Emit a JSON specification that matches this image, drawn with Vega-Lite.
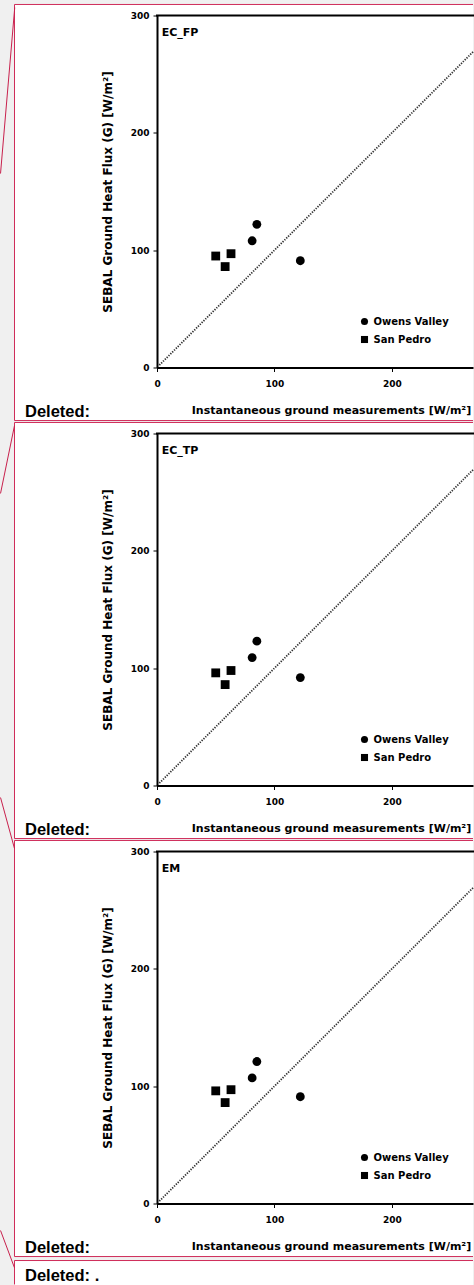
{
  "$schema": "https://vega.github.io/schema/vega-lite/v6.json",
  "background": "#f0f0f0",
  "padding": {"left": 0, "top": 3.5, "right": 0, "bottom": 0},
  "bounds": "flush",
  "spacing": 66,
  "datasets": {
    "pts": [
      {"panel": "EC_FP", "site": "San Pedro", "x": 50, "y": 95},
      {"panel": "EC_FP", "site": "San Pedro", "x": 58, "y": 86},
      {"panel": "EC_FP", "site": "San Pedro", "x": 63, "y": 97},
      {"panel": "EC_FP", "site": "Owens Valley", "x": 81, "y": 108},
      {"panel": "EC_FP", "site": "Owens Valley", "x": 85, "y": 122},
      {"panel": "EC_FP", "site": "Owens Valley", "x": 122, "y": 91},
      {"panel": "EC_TP", "site": "San Pedro", "x": 50, "y": 96},
      {"panel": "EC_TP", "site": "San Pedro", "x": 58, "y": 86},
      {"panel": "EC_TP", "site": "San Pedro", "x": 63, "y": 98},
      {"panel": "EC_TP", "site": "Owens Valley", "x": 81, "y": 109},
      {"panel": "EC_TP", "site": "Owens Valley", "x": 85, "y": 123},
      {"panel": "EC_TP", "site": "Owens Valley", "x": 122, "y": 92},
      {"panel": "EM", "site": "San Pedro", "x": 50, "y": 96},
      {"panel": "EM", "site": "San Pedro", "x": 58, "y": 86},
      {"panel": "EM", "site": "San Pedro", "x": 63, "y": 97},
      {"panel": "EM", "site": "Owens Valley", "x": 81, "y": 107},
      {"panel": "EM", "site": "Owens Valley", "x": 85, "y": 121},
      {"panel": "EM", "site": "Owens Valley", "x": 122, "y": 91}
    ],
    "one": [{"k": 1}]
  },
  "resolve": {"scale": {"shape": "independent"}, "legend": {"shape": "independent"}},
  "config": {
    "view": {"stroke": null},
    "axis": {"grid": false, "domainColor": "black", "domainWidth": 2, "tickColor": "black", "tickSize": 4, "tickWidth": 1, "labelColor": "black", "labelFont": "DejaVu Sans", "labelFontWeight": "bold", "labelFontSize": 9, "labelFlush": false, "titleFont": "DejaVu Sans", "titleFontWeight": "bold", "titleColor": "black"},
    "legend": {"zindex": 1, "labelFont": "DejaVu Sans", "labelFontWeight": "bold", "labelFontSize": 10, "labelColor": "black", "symbolSize": 50, "rowPadding": 8, "padding": 0, "labelOffset": 4, "symbolStrokeWidth": 0}
  },
  "vconcat": [
    {
      "width": 316, "height": 352,
      "layer": [
        {"data": {"name": "one"}, "mark": {"type": "rect", "fill": "white"}, "encoding": {"x": {"datum": -121.3}, "x2": {"datum": 269}, "y": {"datum": 309.4}, "y2": {"datum": -45.2}}},
        {"data": {"name": "one"}, "mark": {"type": "rule", "color": "#cf2d5a", "strokeWidth": 1}, "encoding": {"x": {"datum": -121.3}, "x2": {"datum": 269}, "y": {"datum": 309.4}}},
        {"data": {"name": "one"}, "mark": {"type": "rule", "color": "#cf2d5a", "strokeWidth": 1}, "encoding": {"x": {"datum": -121.3}, "x2": {"datum": 269}, "y": {"datum": -45.2}}},
        {"data": {"name": "one"}, "mark": {"type": "rule", "color": "#cf2d5a", "strokeWidth": 1}, "encoding": {"x": {"datum": -121.3}, "y": {"datum": 309.4}, "y2": {"datum": -45.2}}},
        {"data": {"name": "one"}, "mark": {"type": "rule", "color": "#c8204c", "strokeWidth": 1}, "encoding": {"x": {"datum": -121.1}, "y": {"datum": 306.8}, "x2": {"datum": -133.2}, "y2": {"datum": 165.3}}},
        {"data": {"name": "one"}, "mark": {"type": "text", "align": "left", "baseline": "alphabetic", "font": "Liberation Sans", "fontWeight": "bold", "fontSize": 16.5, "color": "black"}, "encoding": {"x": {"datum": -112.4}, "y": {"datum": -41.8}, "text": {"value": "Deleted:"}}},
        {"data": {"name": "one"}, "mark": {"type": "rule", "color": "black", "strokeWidth": 2, "strokeCap": "square"}, "encoding": {"x": {"datum": 0}, "x2": {"datum": 269}, "y": {"datum": 300}}},
        {"data": {"name": "one"}, "mark": {"type": "rule", "color": "#333333", "strokeWidth": 1.8, "strokeDash": [1.3, 1.3]}, "encoding": {"x": {"datum": 2}, "y": {"datum": 2}, "x2": {"datum": 269}, "y2": {"datum": 269}}},
        {"data": {"name": "one"}, "mark": {"type": "text", "align": "left", "baseline": "middle", "font": "DejaVu Sans", "fontWeight": "bold", "fontSize": 11, "color": "black"}, "encoding": {"x": {"datum": 4}, "y": {"datum": 285.5}, "text": {"value": "EC_FP"}}},
        {
          "data": {"name": "pts"},
          "transform": [{"filter": "datum.panel === 'EC_FP'"}],
          "mark": {"type": "point", "filled": true, "opacity": 1, "color": "black", "size": 78},
          "encoding": {
            "x": {"field": "x", "type": "quantitative", "scale": {"domain": [0, 269], "nice": false, "zero": false}, "axis": {"zindex": 2, "values": [0, 100, 200], "title": "Instantaneous ground measurements [W/m²]", "titleFontSize": 11, "titleX": 174, "titlePadding": 16, "labelPadding": 8}},
            "y": {"field": "y", "type": "quantitative", "scale": {"domain": [0, 300], "nice": false, "zero": false}, "axis": {"zindex": 2, "values": [0, 100, 200, 300], "title": "SEBAL Ground Heat Flux (G) [W/m²]", "titleFontSize": 12, "titlePadding": 16, "labelPadding": 4}},
            "shape": {"field": "site", "type": "nominal", "scale": {"domain": ["Owens Valley", "San Pedro"], "range": ["circle", "square"]}, "legend": {"orient": "none", "legendX": 202.5, "legendY": 301, "title": null}}
          }
        }
      ]
    },
    {
      "width": 316, "height": 352,
      "layer": [
        {"data": {"name": "one"}, "mark": {"type": "rect", "fill": "white"}, "encoding": {"x": {"datum": -121.3}, "x2": {"datum": 269}, "y": {"datum": 309.4}, "y2": {"datum": -45.2}}},
        {"data": {"name": "one"}, "mark": {"type": "rule", "color": "#cf2d5a", "strokeWidth": 1}, "encoding": {"x": {"datum": -121.3}, "x2": {"datum": 269}, "y": {"datum": 309.4}}},
        {"data": {"name": "one"}, "mark": {"type": "rule", "color": "#cf2d5a", "strokeWidth": 1}, "encoding": {"x": {"datum": -121.3}, "x2": {"datum": 269}, "y": {"datum": -45.2}}},
        {"data": {"name": "one"}, "mark": {"type": "rule", "color": "#cf2d5a", "strokeWidth": 1}, "encoding": {"x": {"datum": -121.3}, "y": {"datum": 309.4}, "y2": {"datum": -45.2}}},
        {"data": {"name": "one"}, "mark": {"type": "rule", "color": "#c8204c", "strokeWidth": 1}, "encoding": {"x": {"datum": -121.3}, "y": {"datum": 306.8}, "x2": {"datum": -133.2}, "y2": {"datum": 248.9}}},
        {"data": {"name": "one"}, "mark": {"type": "text", "align": "left", "baseline": "alphabetic", "font": "Liberation Sans", "fontWeight": "bold", "fontSize": 16.5, "color": "black"}, "encoding": {"x": {"datum": -112.4}, "y": {"datum": -42.2}, "text": {"value": "Deleted:"}}},
        {"data": {"name": "one"}, "mark": {"type": "rule", "color": "black", "strokeWidth": 2, "strokeCap": "square"}, "encoding": {"x": {"datum": 0}, "x2": {"datum": 269}, "y": {"datum": 300}}},
        {"data": {"name": "one"}, "mark": {"type": "rule", "color": "#333333", "strokeWidth": 1.8, "strokeDash": [1.3, 1.3]}, "encoding": {"x": {"datum": 2}, "y": {"datum": 2}, "x2": {"datum": 269}, "y2": {"datum": 269}}},
        {"data": {"name": "one"}, "mark": {"type": "text", "align": "left", "baseline": "middle", "font": "DejaVu Sans", "fontWeight": "bold", "fontSize": 11, "color": "black"}, "encoding": {"x": {"datum": 4}, "y": {"datum": 285.5}, "text": {"value": "EC_TP"}}},
        {
          "data": {"name": "pts"},
          "transform": [{"filter": "datum.panel === 'EC_TP'"}],
          "mark": {"type": "point", "filled": true, "opacity": 1, "color": "black", "size": 78},
          "encoding": {
            "x": {"field": "x", "type": "quantitative", "scale": {"domain": [0, 269], "nice": false, "zero": false}, "axis": {"zindex": 2, "values": [0, 100, 200], "title": "Instantaneous ground measurements [W/m²]", "titleFontSize": 11, "titleX": 174, "titlePadding": 16, "labelPadding": 8}},
            "y": {"field": "y", "type": "quantitative", "scale": {"domain": [0, 300], "nice": false, "zero": false}, "axis": {"zindex": 2, "values": [0, 100, 200, 300], "title": "SEBAL Ground Heat Flux (G) [W/m²]", "titleFontSize": 12, "titlePadding": 16, "labelPadding": 4}},
            "shape": {"field": "site", "type": "nominal", "scale": {"domain": ["Owens Valley", "San Pedro"], "range": ["circle", "square"]}, "legend": {"orient": "none", "legendX": 202.5, "legendY": 301, "title": null}}
          }
        }
      ]
    },
    {
      "width": 316, "height": 352,
      "layer": [
        {"data": {"name": "one"}, "mark": {"type": "rect", "fill": "white"}, "encoding": {"x": {"datum": -121.3}, "x2": {"datum": 269}, "y": {"datum": 309.4}, "y2": {"datum": -45.2}}},
        {"data": {"name": "one"}, "mark": {"type": "rule", "color": "#cf2d5a", "strokeWidth": 1}, "encoding": {"x": {"datum": -121.3}, "x2": {"datum": 269}, "y": {"datum": 309.4}}},
        {"data": {"name": "one"}, "mark": {"type": "rule", "color": "#cf2d5a", "strokeWidth": 1}, "encoding": {"x": {"datum": -121.3}, "x2": {"datum": 269}, "y": {"datum": -45.2}}},
        {"data": {"name": "one"}, "mark": {"type": "rule", "color": "#cf2d5a", "strokeWidth": 1}, "encoding": {"x": {"datum": -121.3}, "y": {"datum": 309.4}, "y2": {"datum": -45.2}}},
        {"data": {"name": "one"}, "mark": {"type": "rule", "color": "#c8204c", "strokeWidth": 1}, "encoding": {"x": {"datum": -121.3}, "y": {"datum": 302.5}, "x2": {"datum": -133.2}, "y2": {"datum": 346.0}}},
        {"data": {"name": "one"}, "mark": {"type": "text", "align": "left", "baseline": "alphabetic", "font": "Liberation Sans", "fontWeight": "bold", "fontSize": 16.5, "color": "black"}, "encoding": {"x": {"datum": -112.4}, "y": {"datum": -42.2}, "text": {"value": "Deleted:"}}},
        {"data": {"name": "one"}, "mark": {"type": "rect", "fill": "white"}, "encoding": {"x": {"datum": -121.3}, "x2": {"datum": 269}, "y": {"datum": -48.6}, "y2": {"datum": -69.4}}},
        {"data": {"name": "one"}, "mark": {"type": "rule", "color": "#cf2d5a", "strokeWidth": 1}, "encoding": {"x": {"datum": -121.3}, "x2": {"datum": 269}, "y": {"datum": -48.6}}},
        {"data": {"name": "one"}, "mark": {"type": "rule", "color": "#cf2d5a", "strokeWidth": 1}, "encoding": {"x": {"datum": -121.3}, "y": {"datum": -48.6}, "y2": {"datum": -69.0}}},
        {"data": {"name": "one"}, "mark": {"type": "rule", "color": "#c8204c", "strokeWidth": 1}, "encoding": {"x": {"datum": -121.3}, "y": {"datum": -54.8}, "x2": {"datum": -133.2}, "y2": {"datum": -23.0}}},
        {"data": {"name": "one"}, "mark": {"type": "text", "align": "left", "baseline": "alphabetic", "font": "Liberation Sans", "fontWeight": "bold", "fontSize": 16.5, "color": "black"}, "encoding": {"x": {"datum": -112.4}, "y": {"datum": -66.3}, "text": {"value": "Deleted: ."}}},
        {"data": {"name": "one"}, "mark": {"type": "rule", "color": "black", "strokeWidth": 2, "strokeCap": "square"}, "encoding": {"x": {"datum": 0}, "x2": {"datum": 269}, "y": {"datum": 300}}},
        {"data": {"name": "one"}, "mark": {"type": "rule", "color": "#333333", "strokeWidth": 1.8, "strokeDash": [1.3, 1.3]}, "encoding": {"x": {"datum": 2}, "y": {"datum": 2}, "x2": {"datum": 269}, "y2": {"datum": 269}}},
        {"data": {"name": "one"}, "mark": {"type": "text", "align": "left", "baseline": "middle", "font": "DejaVu Sans", "fontWeight": "bold", "fontSize": 11, "color": "black"}, "encoding": {"x": {"datum": 4}, "y": {"datum": 285.5}, "text": {"value": "EM"}}},
        {
          "data": {"name": "pts"},
          "transform": [{"filter": "datum.panel === 'EM'"}],
          "mark": {"type": "point", "filled": true, "opacity": 1, "color": "black", "size": 78},
          "encoding": {
            "x": {"field": "x", "type": "quantitative", "scale": {"domain": [0, 269], "nice": false, "zero": false}, "axis": {"zindex": 2, "values": [0, 100, 200], "title": "Instantaneous ground measurements [W/m²]", "titleFontSize": 11, "titleX": 174, "titlePadding": 16, "labelPadding": 8}},
            "y": {"field": "y", "type": "quantitative", "scale": {"domain": [0, 300], "nice": false, "zero": false}, "axis": {"zindex": 2, "values": [0, 100, 200, 300], "title": "SEBAL Ground Heat Flux (G) [W/m²]", "titleFontSize": 12, "titlePadding": 16, "labelPadding": 4}},
            "shape": {"field": "site", "type": "nominal", "scale": {"domain": ["Owens Valley", "San Pedro"], "range": ["circle", "square"]}, "legend": {"orient": "none", "legendX": 202.5, "legendY": 301, "title": null}}
          }
        }
      ]
    }
  ]
}
